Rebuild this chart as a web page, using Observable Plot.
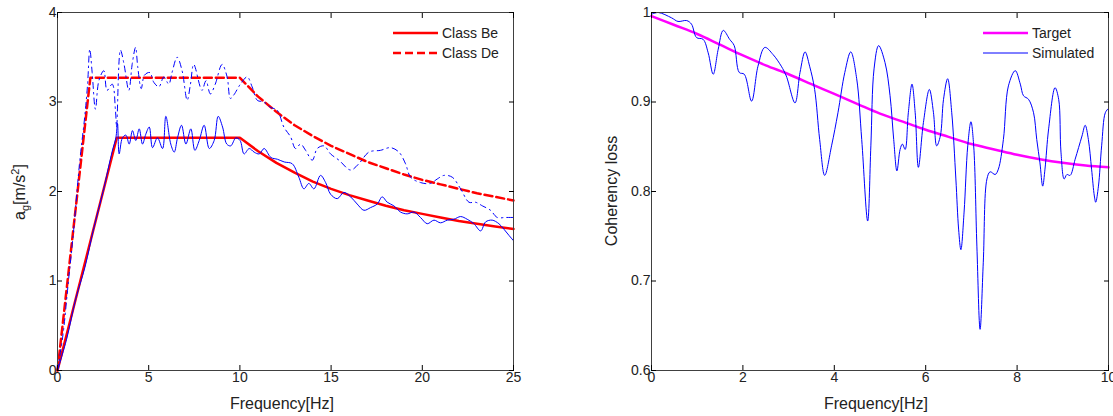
<!DOCTYPE html>
<html>
<head>
<meta charset="utf-8">
<script src="https://cdn.jsdelivr.net/npm/d3@7"></script>
<script src="https://cdn.jsdelivr.net/npm/@observablehq/plot@0.6"></script>
<style>
  html, body { margin: 0; padding: 0; background: #fff; }
  #figure { display: flex; width: 1113px; height: 416px; }
  svg text { font-family: "Liberation Sans", Arial, sans-serif; }
</style>
</head>
<body>
<div id="figure"></div>
<script>
// ---- Design spectra (ground acceleration vs frequency) ----
const beFreq  = [0, 3.25, 10, 11, 12, 13, 14, 15, 16, 17, 18, 19, 20, 21, 22, 23, 24, 25];
const beAccel = [0, 2.60, 2.60, 2.45, 2.32, 2.21, 2.11, 2.03, 1.96, 1.90, 1.84, 1.79, 1.75, 1.71, 1.67, 1.64, 1.61, 1.58];
const deFreq  = [0, 1.8, 10, 11, 12, 13, 14, 15, 16, 17, 18, 19, 20, 21, 22, 23, 24, 25];
const deAccel = [0, 3.27, 3.27, 3.06, 2.89, 2.74, 2.62, 2.51, 2.42, 2.33, 2.26, 2.19, 2.13, 2.08, 2.03, 1.98, 1.94, 1.90];

// ---- Simulated spectra ----
const beSimFreq = [0, 0.5, 1.0, 1.5, 2.0, 2.5, 3.0, 3.2, 3.29, 3.38, 3.56, 3.75, 3.93, 4.11, 4.29, 4.48, 4.66, 4.84, 5.03, 5.21, 5.48, 5.76, 5.94, 6.21, 6.4, 6.58, 6.8, 7.04, 7.31, 7.53, 7.77, 8.04, 8.32, 8.59, 8.81, 9.05, 9.28, 9.5, 9.78, 10.01, 10.23, 10.51, 10.78, 11.06, 11.33, 11.7, 12.06, 12.43, 12.87, 13.23, 13.51, 13.78, 14.06, 14.42, 14.7, 14.97, 15.34, 15.7, 16.07, 16.43, 16.8, 17.16, 17.53, 17.8, 18.08, 18.44, 18.81, 19.17, 19.54, 19.9, 20.27, 20.64, 21.0, 21.37, 21.73, 22.1, 22.46, 22.83, 23.2, 23.47, 23.83, 24.2, 24.47, 24.75, 25.0];
const beSimAccel = [0, 0.35, 0.8, 1.15, 1.6, 2.0, 2.45, 2.6, 2.76, 2.42, 2.6, 2.63, 2.53, 2.68, 2.57, 2.7, 2.53, 2.64, 2.72, 2.49, 2.6, 2.48, 2.84, 2.53, 2.44, 2.6, 2.74, 2.53, 2.7, 2.46, 2.57, 2.74, 2.48, 2.57, 2.84, 2.72, 2.53, 2.51, 2.6, 2.57, 2.42, 2.48, 2.44, 2.42, 2.48, 2.38, 2.36, 2.33, 2.31, 2.16, 2.03, 2.09, 2.03, 2.18, 2.10, 1.97, 1.92, 1.99, 1.94, 1.86, 1.79, 1.82, 1.86, 1.94, 1.88, 1.84, 1.77, 1.75, 1.77, 1.71, 1.64, 1.68, 1.65, 1.68, 1.69, 1.72, 1.69, 1.64, 1.56, 1.66, 1.68, 1.64, 1.58, 1.51, 1.45];

const deSimFreq = [0, 0.3, 0.6, 0.9, 1.2, 1.5, 1.65, 1.77, 1.9, 2.08, 2.27, 2.54, 2.72, 3.0, 3.18, 3.24, 3.45, 3.64, 3.91, 4.1, 4.28, 4.4, 4.59, 4.77, 5.06, 5.28, 5.56, 5.83, 6.1, 6.28, 6.56, 6.83, 7.11, 7.29, 7.47, 7.92, 8.14, 8.38, 8.65, 9.02, 9.3, 9.48, 9.67, 10.03, 10.4, 10.67, 10.95, 11.31, 11.68, 12.04, 12.41, 12.78, 13.05, 13.33, 13.6, 13.97, 14.24, 14.61, 14.97, 15.43, 16.07, 16.52, 17.07, 17.71, 18.26, 18.72, 19.08, 19.36, 19.9, 20.45, 20.82, 21.19, 21.64, 22.1, 22.56, 22.92, 23.29, 23.74, 24.11, 24.57, 25.0];
const deSimAccel = [0, 0.4, 1.0, 1.6, 2.3, 2.85, 3.2, 3.59, 3.33, 2.92, 3.24, 3.35, 3.13, 3.2, 2.9, 2.72, 3.58, 3.43, 3.13, 3.43, 3.61, 3.39, 3.15, 3.3, 3.33, 3.22, 3.17, 3.28, 3.2, 3.33, 3.5, 3.35, 3.02, 3.2, 3.42, 3.13, 3.24, 3.09, 3.2, 3.42, 3.28, 3.04, 3.08, 3.2, 3.28, 3.17, 3.02, 3.0, 2.94, 2.91, 2.72, 2.61, 2.48, 2.53, 2.46, 2.35, 2.48, 2.51, 2.42, 2.35, 2.24, 2.31, 2.44, 2.46, 2.49, 2.44, 2.31, 2.16, 2.10, 2.09, 2.14, 2.18, 2.16, 2.03, 1.88, 1.88, 1.84, 1.79, 1.71, 1.71, 1.71];

// ---- Coherency loss ----
const targetFreq = [0, 0.5, 1, 1.5, 2, 2.5, 3, 3.5, 4, 4.5, 5, 5.5, 6, 6.5, 7, 7.5, 8, 8.5, 9, 9.5, 10];
const targetCoh  = [0.996, 0.986, 0.976, 0.964, 0.952, 0.941, 0.931, 0.920, 0.909, 0.898, 0.887, 0.878, 0.869, 0.861, 0.853, 0.847, 0.841, 0.836, 0.832, 0.829, 0.827];

const simFreq = [0, 0.146, 0.44, 0.58, 0.77, 0.875, 0.985, 1.13, 1.24, 1.35, 1.46, 1.57, 1.71, 1.81, 1.92, 2.03, 2.19, 2.33, 2.48, 2.66, 2.84, 2.95, 3.14, 3.25, 3.36, 3.46, 3.57, 3.68, 3.79, 3.94, 4.08, 4.23, 4.36, 4.49, 4.6, 4.73, 4.8, 4.87, 4.97, 5.11, 5.22, 5.3, 5.37, 5.44, 5.49, 5.55, 5.62, 5.7, 5.77, 5.84, 5.95, 6.08, 6.17, 6.24, 6.32, 6.39, 6.48, 6.57, 6.66, 6.72, 6.77, 6.84, 6.92, 6.99, 7.05, 7.12, 7.19, 7.26, 7.34, 7.41, 7.52, 7.59, 7.7, 7.81, 7.96, 8.07, 8.14, 8.25, 8.36, 8.43, 8.5, 8.56, 8.61, 8.69, 8.83, 8.91, 8.96, 9.03, 9.09, 9.16, 9.27, 9.42, 9.49, 9.56, 9.63, 9.69, 9.72, 9.78, 9.85, 9.93, 9.99, 10.0];
const simCoh  = [0.998, 1.0, 0.994, 0.990, 0.991, 0.987, 0.972, 0.970, 0.955, 0.931, 0.959, 0.980, 0.970, 0.963, 0.933, 0.931, 0.901, 0.940, 0.961, 0.953, 0.940, 0.929, 0.899, 0.933, 0.956, 0.940, 0.914, 0.858, 0.818, 0.851, 0.888, 0.933, 0.956, 0.926, 0.858, 0.767, 0.851, 0.937, 0.963, 0.944, 0.907, 0.858, 0.823, 0.847, 0.853, 0.847, 0.888, 0.920, 0.888, 0.827, 0.877, 0.914, 0.888, 0.851, 0.862, 0.903, 0.926, 0.888, 0.814, 0.758, 0.735, 0.777, 0.851, 0.878, 0.851, 0.739, 0.646, 0.721, 0.814, 0.822, 0.819, 0.825, 0.858, 0.918, 0.935, 0.920, 0.907, 0.903, 0.888, 0.858, 0.832, 0.806, 0.825, 0.870, 0.916, 0.903, 0.844, 0.814, 0.819, 0.818, 0.836, 0.862, 0.874, 0.858, 0.825, 0.795, 0.788, 0.806, 0.851, 0.888, 0.892, 0.885];

// Tick values
const accelXTicks = [0, 5, 10, 15, 20, 25];
const accelYTicks = [0, 1, 2, 3, 4];
const cohXTicks = [0, 2, 4, 6, 8, 10];
const cohYTicks = [0.6, 0.7, 0.8, 0.9, 1];

const zip = (xs, ys) => xs.map((x, i) => ({x, y: ys[i]}));
const FONT = "\"Liberation Sans\", Arial, sans-serif";
const fmt = d3.format("~g");

// Box with inward ticks on all four sides (labels only at bottom and left)
function boxAxes(xTicks, yTicks) {
  const common = {tickSize: -5, stroke: "#000"};
  return [
    Plot.frame({stroke: "#404040", strokeWidth: 1}),
    Plot.axisX(xTicks, {anchor: "bottom", ...common, tickPadding: 7, tickFormat: fmt, label: null, fontSize: 14, fill: "#222"}),
    Plot.axisX(xTicks, {anchor: "top", ...common, tickFormat: () => "", label: null}),
    Plot.axisY(yTicks, {anchor: "left", ...common, tickPadding: 6, tickFormat: fmt, label: null, fontSize: 14, fill: "#222"}),
    Plot.axisY(yTicks, {anchor: "right", ...common, tickFormat: () => "", label: null})
  ];
}

function addLegend(svg, x0, entries) {
  const g = d3.select(svg).append("g").attr("text-anchor", "start");
  entries.forEach((e, i) => {
    const y = 33 + i * 20;
    g.append("line").attr("x1", x0).attr("x2", x0 + 45).attr("y1", y).attr("y2", y)
      .attr("stroke", e.color).attr("stroke-width", e.width)
      .attr("stroke-dasharray", e.dash || null);
    g.append("text").attr("x", x0 + 49).attr("y", y + 5).attr("text-anchor", "start")
      .attr("font-size", 14).attr("fill", "#222").text(e.label);
  });
}

// ---- Left panel: spectra ----
const left = Plot.plot({
  width: 556, height: 416,
  marginLeft: 57, marginRight: 43, marginTop: 12, marginBottom: 46,
  style: {fontFamily: FONT, background: "white", color: "#000"},
  x: {domain: [0, 25]},
  y: {domain: [0, 4]},
  marks: [
    Plot.line(zip(beFreq, beAccel), {x: "x", y: "y", stroke: "#ff0000", strokeWidth: 2.5}),
    Plot.line(zip(deFreq, deAccel), {x: "x", y: "y", stroke: "#ff0000", strokeWidth: 2.5, strokeDasharray: "8,4"}),
    Plot.line(zip(beSimFreq, beSimAccel), {x: "x", y: "y", stroke: "#0000ff", strokeWidth: 1, curve: "catmull-rom"}),
    Plot.line(zip(deSimFreq, deSimAccel), {x: "x", y: "y", stroke: "#0000ff", strokeWidth: 1, curve: "catmull-rom", strokeDasharray: "6,4,1.5,4"}),
    ...boxAxes(accelXTicks, accelYTicks)
  ]
});

// ---- Right panel: coherency loss ----
const right = Plot.plot({
  width: 557, height: 416,
  marginLeft: 95, marginRight: 5, marginTop: 12, marginBottom: 46,
  style: {fontFamily: FONT, background: "white", color: "#000"},
  x: {domain: [0, 10]},
  y: {domain: [0.6, 1]},
  marks: [
    Plot.line(zip(targetFreq, targetCoh), {x: "x", y: "y", stroke: "#ff00ff", strokeWidth: 2.5, curve: "catmull-rom"}),
    Plot.line(zip(simFreq, simCoh), {x: "x", y: "y", stroke: "#0000ff", strokeWidth: 1, curve: "catmull-rom"}),
    ...boxAxes(cohXTicks, cohYTicks)
  ]
});

// Axis titles
const lsvg = d3.select(left);
lsvg.append("text").attr("x", 282).attr("y", 409).attr("text-anchor", "middle")
  .attr("font-size", 16).attr("fill", "#222").text("Frequency[Hz]");
const yl = lsvg.append("text").attr("transform", "translate(25,192) rotate(-90)")
  .attr("text-anchor", "middle").attr("font-size", 16).attr("fill", "#222");
yl.append("tspan").text("a");
yl.append("tspan").attr("dy", 4).attr("font-size", 11).text("g");
yl.append("tspan").attr("dy", -4).text("[m/s");
yl.append("tspan").attr("dy", -6).attr("font-size", 11).text("2");
yl.append("tspan").attr("dy", 6).text("]");

const rsvg = d3.select(right);
rsvg.append("text").attr("x", 320).attr("y", 409).attr("text-anchor", "middle")
  .attr("font-size", 16).attr("fill", "#222").text("Frequency[Hz]");
rsvg.append("text").attr("transform", "translate(61,191) rotate(-90)")
  .attr("text-anchor", "middle").attr("font-size", 16).attr("fill", "#222").text("Coherency loss");

addLegend(left, 393, [
  {label: "Class Be", color: "#ff0000", width: 2.5},
  {label: "Class De", color: "#ff0000", width: 2.5, dash: "8,4"}
]);
addLegend(right, 427, [
  {label: "Target", color: "#ff00ff", width: 2.5},
  {label: "Simulated", color: "#0000ff", width: 1}
]);

document.getElementById("figure").append(left, right);
</script>
</body>
</html>
